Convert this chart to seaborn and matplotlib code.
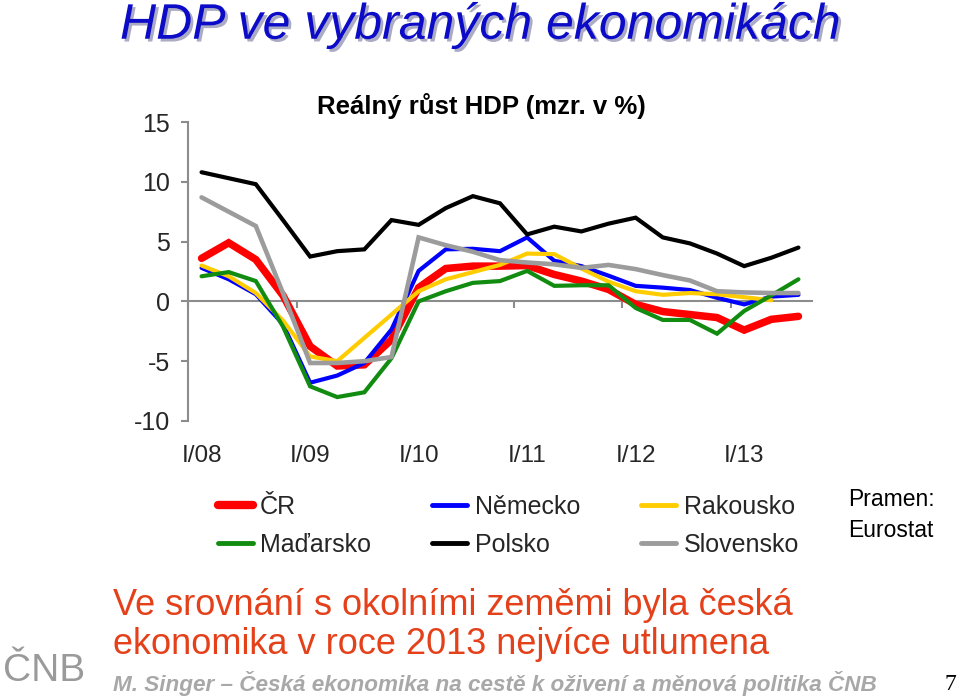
import numpy as np
import pandas as pd
import matplotlib
matplotlib.use("Agg")
import matplotlib.pyplot as plt
import matplotlib.patheffects as pe
from matplotlib.lines import Line2D
import seaborn as sns

# ---------------- data ----------------
quarters = ["I/08", "II/08", "III/08", "IV/08",
            "I/09", "II/09", "III/09", "IV/09",
            "I/10", "II/10", "III/10", "IV/10",
            "I/11", "II/11", "III/11", "IV/11",
            "I/12", "II/12", "III/12", "IV/12",
            "I/13", "II/13", "III/13"]
tick_labels = ["I/08", "I/09", "I/10", "I/11", "I/12", "I/13"]

cr = [3.6, 4.9, 3.5, 0.5, -3.75, -5.4, -5.3, -3.2, 1.15, 2.75, 2.95, 2.95,
      3.0, 2.25, 1.7, 1.0, -0.25, -0.85, -1.1, -1.35, -2.4, -1.5, -1.25]
nemecko = [2.8, 1.85, 0.6, -1.9, -6.8, -6.2, -5.15, -2.35, 2.55, 4.35, 4.4, 4.2,
           5.35, 3.4, 2.95, 2.15, 1.3, 1.15, 0.95, 0.3, -0.25, 0.4, 0.55]
rakousko = [3.0, 2.1, 0.7, -1.6, -4.6, -5.0, -3.05, -1.1, 0.85, 1.85, 2.45, 3.05,
            4.0, 3.95, 2.75, 1.65, 0.85, 0.55, 0.7, 0.6, 0.35, 0.1, np.nan]
madarsko = [2.1, 2.45, 1.7, -2.1, -7.1, -8.0, -7.6, -4.75, 0.0, 0.85, 1.55, 1.7,
            2.55, 1.3, 1.35, 1.35, -0.55, -1.55, -1.55, -2.7, -0.8, 0.5, 1.85]
polsko = [10.8, 10.3, 9.8, 6.8, 3.75, 4.2, 4.35, 6.8, 6.4, 7.8, 8.8, 8.2,
          5.6, 6.25, 5.85, 6.5, 7.0, 5.35, 4.85, 4.0, 2.95, 3.65, 4.5]
slovensko = [8.7, 7.5, 6.3, 0.7, -5.15, -5.15, -5.0, -4.65, 5.35, 4.7, 4.15, 3.45,
             3.25, 3.1, 2.8, 3.05, 2.7, 2.2, 1.75, 0.85, 0.75, 0.7, 0.7]

series_names = ["ČR", "Německo", "Rakousko", "Maďarsko", "Polsko", "Slovensko"]
series_values = [cr, nemecko, rakousko, madarsko, polsko, slovensko]
colors = ["#FF0000", "#0000FF", "#FFCC00", "#118C11", "#000000", "#9C9C9C"]
widths = [5.4, 3.0, 3.0, 3.0, 3.0, 3.3]

y_ticks = [15, 10, 5, 0, -5, -10]
ymin, ymax = -10, 15

# ---------------- figure ----------------
sns.set_style("white")
plt.rcParams["font.family"] = ["Liberation Sans", "DejaVu Sans"]

W, H = 960, 697
fig = plt.figure(figsize=(W / 100, H / 100), dpi=100)
ax = fig.add_axes([188 / W, 1 - 421 / H, (812 - 188) / W, (421 - 122) / H])

df = pd.DataFrame({
    "q": np.tile(np.arange(len(quarters)), len(series_names)),
    "val": np.concatenate([np.asarray(v, dtype=float) for v in series_values]),
    "country": np.repeat(series_names, len(quarters)),
})

for name, col, lw in zip(series_names, colors, widths):
    sub = df[df["country"] == name].dropna()
    sns.lineplot(data=sub, x="q", y="val", color=col, lw=lw, ax=ax,
                 legend=False, solid_joinstyle="miter", solid_capstyle="round")

ax.set_xlim(-0.5, len(quarters) - 0.5)
ax.set_ylim(ymin, ymax)
ax.set_xlabel("")
ax.set_ylabel("")

for s in ["top", "right", "bottom"]:
    ax.spines[s].set_visible(False)
ax.spines["left"].set_color("#8C8C8C")
ax.spines["left"].set_linewidth(1.5)

ax.set_yticks(y_ticks)
ax.set_yticklabels([str(t) for t in y_ticks])
ax.tick_params(axis="y", direction="out", length=5, width=1.5, color="#8C8C8C",
               labelsize=18, pad=8, left=True)

xt = [quarters.index(t) for t in tick_labels]
ax.set_xticks(xt)
ax.set_xticklabels(tick_labels)
ax.tick_params(axis="x", length=0, labelsize=17.5, pad=17)

# zero line with category-boundary ticks
sec = ax.secondary_xaxis((0 - ymin) / (ymax - ymin))
bounds = [i - 0.5 for i in xt]
sec.set_xticks(bounds)
sec.tick_params(direction="out", length=5, width=1.5, color="#8C8C8C",
                labelbottom=False, labeltop=False)
for s in sec.spines.values():
    s.set_color("#8C8C8C")
    s.set_linewidth(1.5)

# legend (row-wise order like the original)
handles = [Line2D([0], [0], color=c, lw=(6 if n == "ČR" else 3.5))
           for n, c in zip(series_names, colors)]
order = [0, 3, 1, 4, 2, 5]
leg = fig.legend([handles[i] for i in order], [series_names[i] for i in order],
                 ncol=3, loc="center left", bbox_to_anchor=(195 / W, 1 - 526 / H),
                 frameon=False, fontsize=18, handlelength=1.4, handletextpad=0.3,
                 columnspacing=2.45, labelspacing=0.55)

# texts
fig.text(480 / W, 1 - 25 / H, "HDP ve vybraných ekonomikách", ha="center", va="center",
         fontsize=36, style="italic", color="#0B0BC8",
         path_effects=[pe.withSimplePatchShadow(offset=(2, -2), shadow_rgbFace="#8888AA",
                                                alpha=0.7)])
fig.text(481 / W, 1 - 106 / H, "Reálný růst HDP (mzr. v %)", ha="center", va="center",
         fontsize=18.5, fontweight="bold", color="black")
fig.text(848 / W, 1 - 515 / H, "Pramen:\nEurostat", ha="left", va="center",
         fontsize=16.5, color="black", linespacing=1.4)
fig.text(113 / W, 1 - 625 / H,
         "Ve srovnání s okolními zeměmi byla česká\nekonomika v roce 2013 nejvíce utlumena",
         ha="left", va="center", fontsize=26, color="#E4411B", linespacing=1.12)
fig.text(113 / W, 1 - 684 / H,
         "M. Singer – Česká ekonomika na cestě k oživení a měnová politika ČNB",
         ha="left", va="center", fontsize=16.2, style="italic", fontweight="bold",
         color="#A8A8A8")
fig.text(950 / W, 1 - 684 / H, "7", ha="center", va="center", fontsize=17,
         family=["Liberation Serif", "DejaVu Serif"], color="black")
fig.text(3 / W, 1 - 671 / H, "ČNB", ha="left", va="center", fontsize=28,
         color="#9A9A9A")

fig.savefig("out.png", dpi=100)
